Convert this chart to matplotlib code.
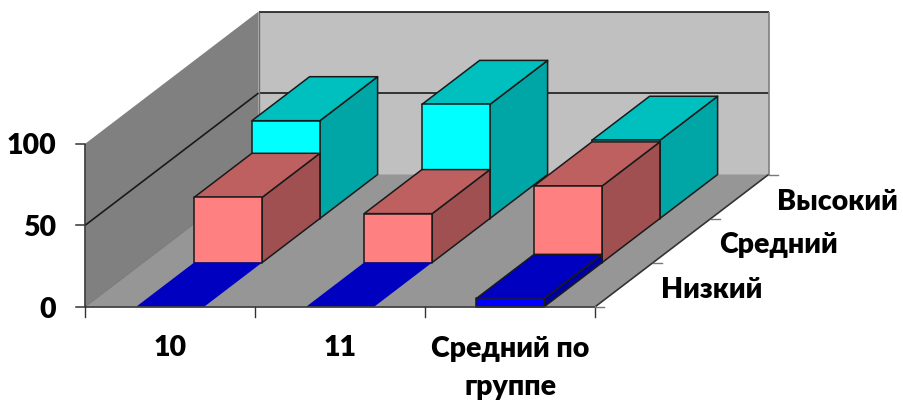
import matplotlib
matplotlib.use('Agg')
import matplotlib.pyplot as plt
from matplotlib.patches import Polygon

plt.rcParams['font.family'] = ['Lato', 'DejaVu Sans']

categories = ['10', '11', 'Средний по\nгруппе']
series_names = ['Низкий', 'Средний', 'Высокий']
low = [0, 0, 5]
mid = [40, 30, 47]
high = [60, 70, 48]
y_ticks = [0, 50, 100]

# цвета: перед, верх, бок
colors = [('#0000FF', '#0000C0', '#00009E'),
          ('#FF8080', '#BF6060', '#A05050'),
          ('#00FFFF', '#00BFBF', '#00A5A5')]

# косая проекция (x - категория, d - ряд, z - значение) в пиксели
X0, Y0 = 85.5, 306.5
CAT_W = 170
DX, DY = 57.7, 44
Z_K = 1.63
BAR_L, BAR_R = 0.3, 0.7
FS = 20.5
WEIGHT = 'heavy'


def proj(x, d, z):
    return (X0 + x * CAT_W + d * DX, Y0 - d * DY - z * Z_K)


def face(ax, pts, color, edge='none', lw=1.1, z=1):
    ax.add_patch(Polygon([proj(*p) for p in pts], closed=True, facecolor=color,
                         edgecolor=edge, linewidth=lw, joinstyle='round', zorder=z))


def line(ax, a, b, color='#1a1a1a', lw=1.2):
    p, q = proj(*a), proj(*b)
    ax.plot([p[0], q[0]], [p[1], q[1]], color=color, lw=lw, solid_capstyle='butt', zorder=1)


def bar(ax, i, d, val, cols):
    l, r = i + BAR_L, i + BAR_R
    edge = '#1a1a1a'
    if val > 0:
        face(ax, [(r, d, 0), (r, d + 1, 0), (r, d + 1, val), (r, d, val)], cols[2], edge)
        face(ax, [(l, d, val), (r, d, val), (r, d + 1, val), (l, d + 1, val)], cols[1], edge)
        face(ax, [(l, d, 0), (r, d, 0), (r, d, val), (l, d, val)], cols[0], edge)
    else:
        face(ax, [(l, d, 0), (r, d, 0), (r, d + 1, 0), (l, d + 1, 0)], cols[1])


fig = plt.figure(figsize=(9.04, 4.05), dpi=100)
ax = fig.add_axes([0, 0, 1, 1])
ax.set_xlim(0, 904)
ax.set_ylim(405, 0)
ax.axis('off')

n = len(categories)
m = len(series_names)
top = max(y_ticks)

# стены и пол
face(ax, [(0, m, 0), (n, m, 0), (n, m, top), (0, m, top)], '#C0C0C0')
face(ax, [(0, 0, 0), (0, m, 0), (0, m, top), (0, 0, top)], '#808080')
face(ax, [(0, 0, 0), (n, 0, 0), (n, m, 0), (0, m, 0)], '#969696')

# линии сетки
for t in y_ticks[1:]:
    if t < top:
        line(ax, (0, 0, t), (0, m, t))
    line(ax, (0, m, t), (n, m, t), lw=1.2)
line(ax, (n, m, 0), (n, m, top), color='#808080', lw=1.2)
line(ax, (0, m, 0), (0, m, top), color='#707070', lw=1.0)
line(ax, (0, 0, 0), (0, m, 0), color='#7a7a7a', lw=0.8)

# столбцы, от дальнего ряда к ближнему
values = [low, mid, high]
for d in range(m - 1, -1, -1):
    for i in range(n):
        bar(ax, i, d, values[d][i], colors[d])

# оси
line(ax, (0, 0, 0), (0, 0, top), color='#333333')
line(ax, (0, 0, 0), (n, 0, 0), color='#333333')
line(ax, (n, 0, 0), (n, m, 0), color='#333333')

for t in y_ticks:
    x, y = proj(0, 0, t)
    ax.plot([x - 9, x], [y, y], color='#333333', lw=1.1)
    ax.text(56, y + 3, str(t), ha='right', va='center', fontsize=FS, fontweight=WEIGHT, color='black')

for i in range(n + 1):
    x, y = proj(i, 0, 0)
    ax.plot([x, x], [y, y + 10], color='#333333', lw=1.0)

for i, c in enumerate(categories):
    x, y = proj(i + 0.5, 0, 0)
    ax.text(x, y + 29, c, ha='center', va='top', fontsize=FS, fontweight=WEIGHT,
            color='black', linespacing=1.58)

for d in range(m + 1):
    x, y = proj(n, d, 0)
    ax.plot([x, x + 9], [y, y], color='#777777', lw=1.0)

for d, name in enumerate(series_names):
    x, y = proj(n, d, 0)
    ax.text(x + 66, y - 17, name, ha='left', va='center', fontsize=FS, fontweight=WEIGHT, color='black')

fig.savefig('out.png', dpi=100)
